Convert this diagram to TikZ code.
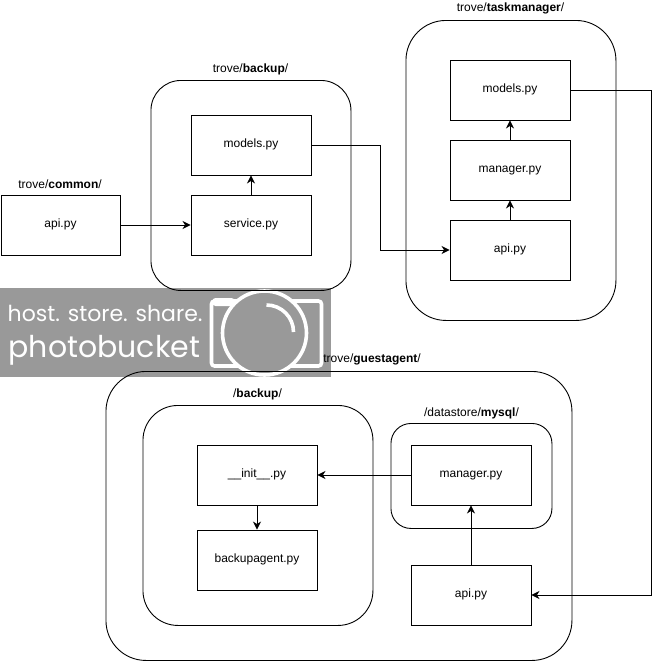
\documentclass[tikz,border=0pt]{standalone}
\usepackage{fontspec}
\setmainfont{Liberation Sans}
\newfontfamily\wmfont{Poppins}
\usetikzlibrary{arrows.meta}
\definecolor{wmgray}{HTML}{999999}
\tikzset{
  x=1pt,y=-1pt,
  filebox/.style={draw=black,line width=0.9pt,minimum width=120pt,minimum height=60pt,inner sep=0pt,font=\fontsize{12}{14}\selectfont,anchor=center,text height=9pt,text depth=4pt},
  groupbox/.style={draw=black,line width=0.9pt,inner sep=0pt,anchor=north west},
  grouplabel/.style={inner sep=0pt,font=\fontsize{12}{14}\selectfont,anchor=center},
  conn/.style={draw=black,line width=0.9pt,-{Stealth[length=8pt,width=8pt,inset=2.5pt]}},
  wmtext/.style={inner sep=0pt,text=white,anchor=west},
  wmline/.style={draw=white,line width=3.6pt}
}
\begin{document}
\begin{tikzpicture}
\useasboundingbox (0,0) rectangle (661,664);
\begin{scope}[xshift=-0.5pt]
% watermark
\node[fill=wmgray,anchor=north west,minimum width=331.5pt,minimum height=89pt,inner sep=0pt] (wm) at (0,288) {};
\node[wmtext,font=\wmfont\fontsize{22}{26}\selectfont] (wmtop) at (8,313) {host. store. share.};
\node[wmtext,font=\wmfont\fontsize{30}{34}\selectfont] (wmbot) at (9,350) {photobucket};
\fill[white,rounded corners=3pt] (213,298) rectangle (235,306);
\draw[wmline,rounded corners=3pt] (212,301) rectangle (322,366);
\draw[wmline,fill=wmgray] (265,333) circle (42);
\draw[wmline] (267,305) arc (-90:0:27);
% groups
\node[groupbox,rounded corners=30pt,minimum width=200pt,minimum height=210pt] (gbackup) at (151,80) {};
\node[groupbox,rounded corners=40pt,minimum width=210pt,minimum height=300pt] (gtask) at (406,20) {};
\node[groupbox,rounded corners=40pt,minimum width=466pt,minimum height=289pt] (gguest) at (106,371) {};
\node[groupbox,rounded corners=35pt,minimum width=230pt,minimum height=220pt] (gbk) at (143,405) {};
\node[groupbox,rounded corners=20pt,minimum width=161pt,minimum height=105pt] (gmysql) at (391,423) {};
% labels
\node[grouplabel] (lcommon) at (60.5,184) {trove/\textbf{common}/};
\node[grouplabel] (lbackup) at (251,69) {trove/\textbf{backup}/};
\node[grouplabel] (ltask) at (511,8) {trove/\textbf{taskmanager}/};
\node[grouplabel] (lguest) at (372.5,359) {trove/\textbf{guestagent}/};
\node[grouplabel] (lbk) at (258,394) {/\textbf{backup}/};
\node[grouplabel] (lmysql) at (472,413) {/datastore/\textbf{mysql}/};
% files
\node[filebox,minimum width=119pt] (capi) at (61,225) {api.py};
\node[filebox] (bmodels) at (251.5,145) {models.py};
\node[filebox] (bservice) at (251.5,225) {service.py};
\node[filebox] (tmodels) at (510.5,90) {models.py};
\node[filebox] (tmanager) at (510.5,170) {manager.py};
\node[filebox] (tapi) at (510.5,250) {api.py};
\node[filebox] (ginit) at (257.5,475) {\_\_init\_\_.py};
\node[filebox] (gagent) at (257.5,560) {backupagent.py};
\node[filebox] (gmanager) at (471.5,475) {manager.py};
\node[filebox] (gapi) at (471.5,595) {api.py};
% bends
\coordinate (bendA) at (381,200);
\coordinate (bendB) at (652,300);
% connectors
\draw[conn] (capi) -- (bservice);
\draw[conn] (bservice) -- (bmodels);
\draw[conn] (bmodels.east) -- (bmodels.east -| bendA) -- (tapi.west -| bendA) -- (tapi.west);
\draw[conn] (tapi) -- (tmanager);
\draw[conn] (tmanager) -- (tmodels);
\draw[conn] (tmodels.east) -- (tmodels.east -| bendB) -- (gapi.east -| bendB) -- (gapi.east);
\draw[conn] (gmanager) -- (ginit);
\draw[conn] (ginit) -- (gagent);
\draw[conn] (gapi) -- (gmanager);
\end{scope}
\end{tikzpicture}
\end{document}
